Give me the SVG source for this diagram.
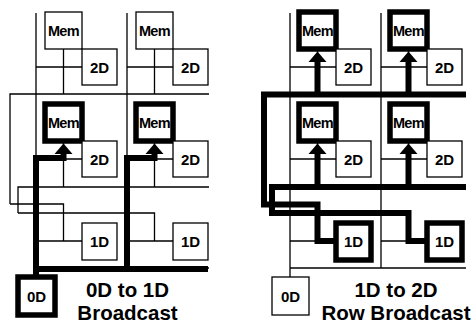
<svg xmlns="http://www.w3.org/2000/svg" width="472" height="325" viewBox="0 0 472 325">
<style>
.bg{fill:#fff}
.thin{fill:none;stroke:#000;stroke-width:1.3}
.thick{fill:none;stroke:#000;stroke-width:6;stroke-linejoin:miter;stroke-linecap:butt}
.box{fill:#fff;stroke:#000;stroke-width:1.3}
.hbox{fill:#fff;stroke:#000;stroke-width:5.5}
.lbl{font-family:"Liberation Sans",Arial,sans-serif;font-weight:bold;font-size:15px;text-anchor:middle;fill:#000}
.mem{font-size:14.5px;letter-spacing:-0.6px}
.title{font-family:"Liberation Sans",Arial,sans-serif;font-weight:bold;font-size:20.5px;text-anchor:middle;fill:#000}
</style>
<defs>
<marker id="ah" markerUnits="userSpaceOnUse" markerWidth="12" markerHeight="20" viewBox="0 -10 12 20" refX="0" refY="0" orient="auto">
<path d="M0,-9 L10.5,0 L0,9 z" fill="#000"/>
</marker>
</defs>
<rect class="bg" x="0" y="0" width="472" height="325"/>

<g id="connectors">
  <!-- left panel thin wiring -->
  <path class="thin" d="M36,13 V268 M127,13 V268"/>
  <path class="thin" d="M36,67 H82 M127,67 H173"/>
  <path class="thin" d="M63.5,49 V94 M154.5,49 V94"/>
  <path class="thin" d="M10,204 V94 H209"/>
  <path class="thin" d="M36,159 H82 M127,159 H173"/>
  <path class="thin" d="M63.5,141 V187 M154.5,141 V187"/>
  <path class="thin" d="M18,213 V187 H209"/>
  <path class="thin" d="M10,204 H63.5 V241 M18,213 H154.5 V241"/>
  <path class="thin" d="M36,241 H82 M127,241 H173"/>
  <path class="thin" d="M36,268 H209"/>
  <!-- left panel thick broadcast -->
  <path class="thick" d="M36,269 H208"/>
  <path class="thick" marker-end="url(#ah)" d="M36,277 V158 H63.5 V154"/>
  <path class="thick" marker-end="url(#ah)" d="M127,269 V158 H154.5 V154"/>

  <!-- right panel thin wiring -->
  <path class="thin" d="M290,13 V277 M381,13 V268"/>
  <path class="thin" d="M290,67 H336 M381,67 H427"/>
  <path class="thin" d="M317.5,49 V94 M408.5,49 V94"/>
  <path class="thin" d="M290,159 H336 M381,159 H427"/>
  <path class="thin" d="M317.5,141 V187 M408.5,141 V187"/>
  <path class="thin" d="M290,241 H336 M381,241 H427"/>
  <path class="thin" d="M290,268 H466"/>
  <!-- right panel thick row broadcast -->
  <path class="thick" d="M336,241 H317.5 V204.5 H264 V94.5 H466"/>
  <path class="thick" d="M427,241 H408.5 V213 H272 V187 H466"/>
  <path class="thick" marker-end="url(#ah)" d="M317.5,94.5 V62"/>
  <path class="thick" marker-end="url(#ah)" d="M408.5,94.5 V62"/>
  <path class="thick" marker-end="url(#ah)" d="M317.5,187 V154"/>
  <path class="thick" marker-end="url(#ah)" d="M408.5,187 V154"/>
</g>

<!-- left panel nodes -->
<g id="L-mem-r1c1"><rect class="box" x="45" y="12" width="37" height="37"/><text class="lbl mem" x="63.5" y="36">Mem</text></g>
<g id="L-2d-r1c1"><rect class="box" x="82" y="49" width="35" height="36"/><text class="lbl" x="99.5" y="72.5">2D</text></g>
<g id="L-mem-r1c2"><rect class="box" x="136" y="12" width="37" height="37"/><text class="lbl mem" x="154.5" y="36">Mem</text></g>
<g id="L-2d-r1c2"><rect class="box" x="173" y="49" width="35" height="36"/><text class="lbl" x="190.5" y="72.5">2D</text></g>
<g id="L-mem-r2c1"><rect class="hbox" x="45" y="104" width="37" height="37"/><text class="lbl mem" x="63.5" y="128">Mem</text></g>
<g id="L-2d-r2c1"><rect class="box" x="82" y="141" width="35" height="36"/><text class="lbl" x="99.5" y="164.5">2D</text></g>
<g id="L-mem-r2c2"><rect class="hbox" x="136" y="104" width="37" height="37"/><text class="lbl mem" x="154.5" y="128">Mem</text></g>
<g id="L-2d-r2c2"><rect class="box" x="173" y="141" width="35" height="36"/><text class="lbl" x="190.5" y="164.5">2D</text></g>
<g id="L-1d-c1"><rect class="box" x="82" y="223" width="35" height="37"/><text class="lbl" x="99.5" y="247">1D</text></g>
<g id="L-1d-c2"><rect class="box" x="173" y="223" width="35" height="37"/><text class="lbl" x="190.5" y="247">1D</text></g>
<g id="L-0d"><rect class="hbox" x="18" y="277" width="37" height="38"/><text class="lbl" x="36.5" y="301.5">0D</text></g>
<g id="L-title"><text class="title" x="127.5" y="297">0D to 1D</text><text class="title" x="127.5" y="320">Broadcast</text></g>

<!-- right panel nodes -->
<g id="R-mem-r1c1"><rect class="hbox" x="299" y="12" width="37" height="37"/><text class="lbl mem" x="317.5" y="36">Mem</text></g>
<g id="R-2d-r1c1"><rect class="box" x="336" y="49" width="35" height="36"/><text class="lbl" x="353.5" y="72.5">2D</text></g>
<g id="R-mem-r1c2"><rect class="hbox" x="390" y="12" width="37" height="37"/><text class="lbl mem" x="408.5" y="36">Mem</text></g>
<g id="R-2d-r1c2"><rect class="box" x="427" y="49" width="35" height="36"/><text class="lbl" x="444.5" y="72.5">2D</text></g>
<g id="R-mem-r2c1"><rect class="hbox" x="299" y="104" width="37" height="37"/><text class="lbl mem" x="317.5" y="128">Mem</text></g>
<g id="R-2d-r2c1"><rect class="box" x="336" y="141" width="35" height="36"/><text class="lbl" x="353.5" y="164.5">2D</text></g>
<g id="R-mem-r2c2"><rect class="hbox" x="390" y="104" width="37" height="37"/><text class="lbl mem" x="408.5" y="128">Mem</text></g>
<g id="R-2d-r2c2"><rect class="box" x="427" y="141" width="35" height="36"/><text class="lbl" x="444.5" y="164.5">2D</text></g>
<g id="R-1d-c1"><rect class="hbox" x="336" y="223" width="35" height="37"/><text class="lbl" x="353.5" y="247">1D</text></g>
<g id="R-1d-c2"><rect class="hbox" x="427" y="223" width="35" height="37"/><text class="lbl" x="444.5" y="247">1D</text></g>
<g id="R-0d"><rect class="box" x="272" y="277" width="37" height="38"/><text class="lbl" x="290.5" y="301.5">0D</text></g>
<g id="R-title"><text class="title" x="396" y="297">1D to 2D</text><text class="title" x="396" y="320">Row Broadcast</text></g>
</svg>
